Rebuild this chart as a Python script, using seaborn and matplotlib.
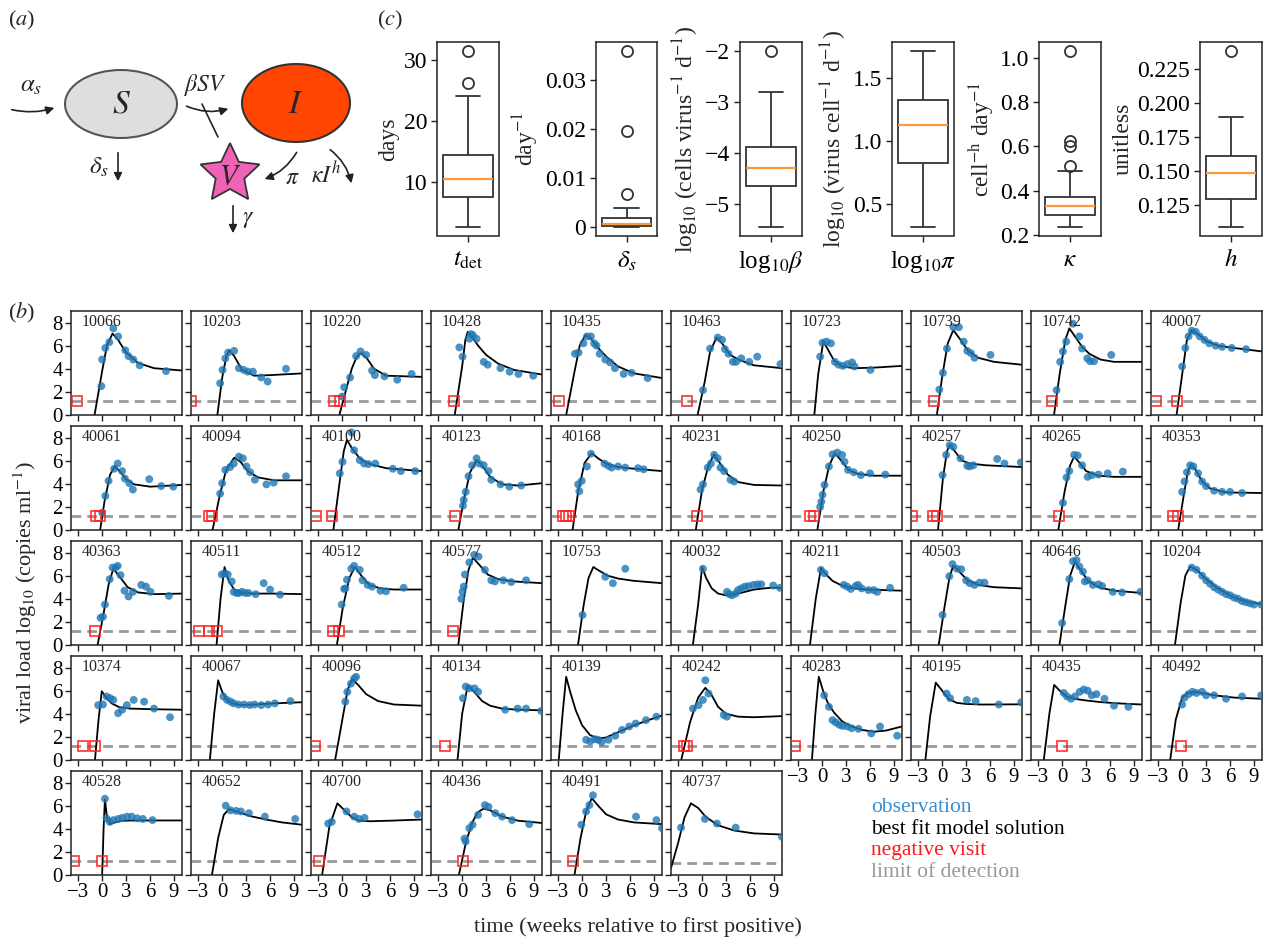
import numpy as np
import matplotlib
matplotlib.use("Agg")
import matplotlib.pyplot as plt
import seaborn as sns
from matplotlib.patches import Ellipse, Polygon, FancyArrowPatch

# ---------------- data: panel (b) ----------------
patient_ids = ["10066", "10203", "10220", "10428", "10435", "10463", "10723", "10739", "10742", "40007",
               "40061", "40094", "40100", "40123", "40168", "40231", "40250", "40257", "40265", "40353",
               "40363", "40511", "40512", "40577", "10753", "40032", "40211", "40503", "40646", "10204",
               "10374", "40067", "40096", "40134", "40139", "40242", "40283", "40195", "40435", "40492",
               "40528", "40652", "40700", "40436", "40491", "40737"]

obs_t = [
    [-0.1, 0.0, 0.4, 0.9, 1.4, 2.0, 2.9, 3.3, 3.9, 4.7, 8.0],
    [-0.25, 0.05, 0.4, 0.75, 1.5, 2.1, 2.7, 3.2, 3.85, 4.9, 5.7, 8.0],
    [0.0, 0.25, 1.0, 1.75, 2.3, 3.0, 3.75, 4.1, 5.3, 6.9, 8.7],
    [-0.35, 0.05, 0.9, 1.1, 1.35, 1.8, 2.7, 3.2, 4.8, 5.95, 7.05, 8.9],
    [-0.9, -0.45, 0.15, 0.6, 1.1, 1.5, 1.8, 2.2, 2.9, 3.5, 4.1, 5.2, 6.2, 8.2],
    [0.1, 1.0, 1.95, 2.5, 2.85, 3.3, 3.85, 4.25, 4.9, 5.9, 6.9, 9.8],
    [-0.25, 0.05, 0.55, 1.1, 1.6, 2.05, 2.6, 3.15, 3.75, 4.05, 6.05],
    [-0.35, 0.1, 0.6, 1.4, 2.1, 2.7, 3.15, 3.6, 4.05, 6.05],
    [-0.7, -0.25, 0.1, 0.5, 1.35, 2.15, 2.5, 3.15, 3.5, 4.0, 6.15],
    [0.0, 0.4, 0.8, 1.2, 1.7, 2.2, 2.8, 3.4, 4.2, 5.0, 6.2, 8.0],
    [0.0, 0.4, 0.8, 1.5, 1.95, 2.5, 2.85, 3.4, 3.85, 5.9, 7.4, 8.9],
    [-0.25, 0.0, 0.4, 1.0, 1.45, 2.1, 2.6, 3.05, 3.5, 4.1, 5.55, 6.45, 8.0],
    [-0.3, 0.05, 1.15, 1.5, 2.2, 2.75, 3.3, 4.15, 6.35, 7.35, 9.15],
    [0.1, 0.2, 0.45, 0.8, 1.25, 1.8, 2.15, 2.7, 3.3, 3.65, 4.8, 5.9, 7.4],
    [-0.5, -0.35, -0.05, 0.6, 1.1, 2.8, 3.3, 3.7, 4.5, 5.4, 7.0, 7.7],
    [-0.2, 0.1, 0.7, 1.1, 1.5, 1.95, 2.3, 2.75, 3.55, 4.0],
    [-0.25, -0.1, 0.05, 0.3, 0.85, 1.3, 1.9, 2.5, 2.8, 3.25, 3.95, 4.85, 6.0, 7.9],
    [0.05, 0.5, 0.95, 1.4, 2.3, 3.15, 3.45, 3.9, 6.9, 7.8, 9.85],
    [0.1, 0.55, 0.9, 1.5, 1.95, 2.5, 3.2, 3.75, 4.55, 5.7, 7.6],
    [0.0, 0.3, 0.6, 1.0, 1.4, 2.0, 2.5, 3.0, 4.0, 5.0, 6.0, 7.5],
    [-0.2, 0.1, 0.35, 0.95, 1.3, 1.7, 1.95, 2.3, 2.8, 3.3, 3.85, 4.9, 5.5, 6.05, 8.35],
    [-0.05, 0.3, 0.7, 1.2, 1.45, 1.8, 2.1, 2.5, 2.9, 3.3, 4.2, 5.2, 6.0, 7.25],
    [-0.05, 0.25, 0.4, 0.6, 1.15, 1.5, 2.2, 2.55, 3.2, 3.75, 4.8, 5.5, 7.7],
    [-0.1, 0.05, 0.2, 0.35, 0.9, 1.5, 2.05, 2.85, 3.65, 4.1, 5.15, 6.15, 8.0],
    [0.05, 2.9, 3.85, 5.4],
    [0.1, 3.1, 3.4, 3.75, 4.2, 4.5, 4.9, 5.35, 5.8, 6.4, 6.95, 7.4, 8.9, 9.75],
    [-0.15, 0.3, 2.7, 3.15, 3.6, 4.2, 4.5, 4.95, 5.8, 6.45, 6.9, 8.5],
    [0.05, 0.9, 1.3, 1.85, 2.4, 3.0, 3.45, 4.05, 4.7, 5.3],
    [0.0, 0.9, 1.35, 1.8, 2.15, 2.6, 2.85, 3.2, 3.85, 4.55, 5.0, 6.35, 7.5, 9.8],
    [1.2, 1.8, 2.5, 3.0, 3.5, 4.0, 4.5, 5.0, 5.5, 6.0, 6.5, 7.0, 7.5, 8.0, 8.5, 9.0, 9.9],
    [-0.5, 0.1, 0.55, 1.0, 1.4, 2.0, 2.5, 3.1, 3.95, 5.25, 6.5, 8.5],
    [0.15, 0.6, 1.05, 1.45, 2.05, 2.75, 3.45, 4.05, 4.9, 5.75, 6.6, 8.55],
    [0.4, 0.65, 1.1, 1.5, 1.75],
    [0.1, 0.45, 0.9, 1.55, 2.0, 5.4, 6.95, 8.0, 9.9],
    [0.5, 1.0, 1.6, 2.0, 2.45, 3.3, 4.15, 5.0, 5.9, 6.7, 8.0, 9.3],
    [-1.15, -0.45, 0.1, 0.4, 0.8, 2.7, 3.1],
    [0.25, 0.85, 1.3, 1.7, 2.15, 2.55, 3.15, 3.7, 4.55, 6.15, 7.25, 9.4],
    [0.55, 1.0, 3.1, 4.2, 7.1, 9.9],
    [0.2, 0.6, 1.1, 1.6, 2.2, 2.7, 3.2, 3.7, 4.3, 5.3, 6.5, 8.3],
    [0.0, 0.3, 0.8, 1.3, 1.8, 2.5, 3.0, 4.0, 5.5, 7.5, 9.9],
    [0.35, 0.55, 0.95, 1.4, 2.0, 2.5, 3.1, 3.7, 4.4, 5.1, 6.3],
    [0.45, 1.05, 1.75, 2.35, 3.35, 5.35, 9.15],
    [-1.75, -1.3, 0.55, 1.5, 2.1, 2.8, 9.45],
    [0.3, 0.45, 0.9, 1.3, 2.0, 2.85, 3.3, 4.15, 5.0, 6.25, 8.4],
    [-0.1, 0.5, 0.9, 1.35, 6.75, 9.3, 10.0],
    [-2.65, 0.35, 1.85, 4.2, 10.0],
]

obs_v = [
    [2.5, 4.8, 5.8, 6.3, 7.5, 6.8, 5.6, 5.1, 4.8, 4.3, 3.8],
    [2.75, 3.9, 4.9, 5.4, 5.55, 4.05, 3.9, 3.75, 3.75, 3.25, 2.9, 4.0],
    [1.6, 2.4, 3.25, 5.1, 5.5, 5.2, 3.85, 3.45, 3.35, 3.05, 3.55],
    [5.85, 5.05, 6.6, 7.0, 6.9, 6.6, 4.6, 4.35, 4.05, 3.75, 3.55, 3.4],
    [5.3, 5.4, 6.2, 6.8, 6.8, 6.2, 6.0, 5.3, 4.8, 4.55, 4.05, 3.55, 3.65, 3.2],
    [2.15, 5.75, 6.7, 6.5, 5.7, 5.3, 4.6, 4.6, 4.9, 4.6, 5.05, 4.4],
    [5.05, 6.25, 6.35, 6.2, 4.6, 4.35, 4.25, 4.4, 4.55, 4.2, 3.9],
    [2.2, 3.65, 5.75, 7.6, 7.6, 6.35, 5.55, 5.35, 4.95, 5.2],
    [2.15, 4.6, 5.5, 6.35, 7.9, 6.8, 5.75, 4.9, 4.65, 4.65, 5.2],
    [4.2, 5.8, 6.8, 7.3, 7.2, 6.8, 6.5, 6.2, 6.0, 5.9, 5.8, 5.7],
    [1.5, 2.95, 4.25, 5.3, 5.75, 5.1, 4.45, 4.05, 3.5, 4.4, 3.8, 3.75],
    [3.15, 4.05, 5.2, 5.45, 5.75, 6.35, 6.2, 5.5, 5.0, 4.35, 3.95, 4.1, 4.65],
    [4.9, 5.9, 8.45, 6.9, 6.05, 5.75, 5.7, 5.75, 5.3, 5.1, 5.1],
    [2.1, 2.6, 3.3, 4.65, 5.6, 6.2, 5.75, 5.6, 5.1, 4.35, 3.95, 3.75, 3.85],
    [3.95, 3.35, 4.25, 5.5, 6.6, 5.75, 5.55, 5.4, 5.5, 5.4, 5.35, 5.25],
    [3.5, 3.95, 5.4, 5.75, 6.5, 6.2, 5.4, 5.1, 4.35, 4.2],
    [2.0, 2.45, 3.05, 3.9, 5.5, 6.55, 6.7, 6.5, 5.9, 5.2, 5.0, 4.75, 4.9, 4.8],
    [4.75, 6.5, 7.35, 7.2, 6.2, 5.55, 5.5, 5.6, 6.15, 5.75, 5.85],
    [2.35, 4.55, 5.1, 6.5, 6.45, 5.6, 4.6, 4.75, 4.8, 4.9, 5.05],
    [3.3, 4.2, 5.0, 5.6, 5.5, 4.9, 4.2, 3.8, 3.4, 3.3, 3.3, 3.2],
    [2.35, 2.45, 3.5, 5.7, 6.7, 6.7, 6.85, 6.05, 4.7, 4.2, 4.6, 5.2, 5.05, 4.6, 4.25],
    [6.1, 6.2, 6.1, 5.5, 4.6, 4.5, 4.5, 4.6, 4.5, 4.5, 4.4, 5.35, 4.8, 4.35],
    [3.5, 4.85, 4.9, 5.65, 6.6, 6.85, 6.5, 5.6, 5.2, 5.05, 4.7, 4.65, 4.95],
    [4.0, 4.6, 5.05, 6.1, 7.15, 7.8, 7.65, 6.5, 5.6, 5.5, 5.6, 5.45, 5.6],
    [2.6, 5.9, 5.35, 6.6],
    [6.6, 4.6, 4.4, 4.3, 4.45, 4.75, 4.9, 5.05, 5.1, 5.2, 5.25, 5.25, 5.15, 4.95],
    [6.5, 6.2, 5.2, 5.05, 4.85, 5.1, 5.2, 4.9, 4.75, 4.75, 4.6, 4.95],
    [2.6, 5.95, 7.0, 6.6, 6.55, 5.6, 5.35, 5.2, 5.4, 5.4],
    [1.9, 5.7, 7.25, 7.35, 6.8, 6.35, 5.5, 5.6, 5.2, 5.25, 5.1, 4.6, 4.55, 4.6],
    [6.7, 6.5, 6.0, 5.6, 5.3, 5.0, 4.8, 4.6, 4.4, 4.3, 4.1, 4.0, 3.8, 3.7, 3.6, 3.5, 3.5],
    [4.75, 4.8, 5.5, 5.35, 5.2, 4.05, 4.35, 4.75, 5.2, 5.05, 4.45, 3.7],
    [5.5, 5.2, 5.05, 4.9, 4.8, 4.8, 4.75, 4.8, 4.75, 4.8, 4.9, 5.1],
    [5.05, 5.9, 6.6, 7.05, 7.2],
    [5.35, 6.35, 6.2, 6.2, 5.9, 4.35, 4.45, 4.45, 4.25],
    [1.75, 1.6, 1.8, 1.75, 1.55, 1.75, 2.1, 2.6, 2.9, 3.15, 3.45, 3.75],
    [4.45, 4.75, 5.2, 6.9, 5.75, 3.9, 3.75],
    [5.6, 4.6, 3.45, 3.25, 3.05, 2.95, 2.9, 2.75, 2.7, 2.3, 2.9, 2.1],
    [5.75, 5.35, 5.2, 5.1, 4.8, 5.0],
    [5.8, 5.5, 5.3, 5.5, 5.9, 6.1, 6.0, 5.6, 5.7, 5.3, 4.7, 4.6],
    [4.8, 5.4, 5.7, 5.9, 5.8, 5.9, 5.6, 5.6, 5.3, 5.5, 5.6],
    [6.6, 4.9, 4.6, 4.75, 4.85, 4.95, 5.05, 5.05, 4.9, 4.85, 4.75],
    [6.0, 5.6, 5.55, 5.5, 5.35, 5.05, 4.85],
    [4.45, 4.6, 5.5, 5.05, 4.85, 4.95, 5.25],
    [3.15, 2.9, 4.05, 4.35, 5.2, 6.05, 5.9, 5.35, 5.05, 4.75, 4.4],
    [4.35, 5.5, 6.05, 6.9, 5.05, 4.75, 4.05],
    [4.1, 4.85, 4.45, 4.1, 3.3],
]

neg_t = [
    [-3.1], [-3.95], [-1.0, -0.3], [-1.0], [-2.9], [-1.95], [], [-1.0], [-1.3], [-3.3, -0.7],
    [-0.8, -0.3], [-1.7, -1.3], [-3.25, -1.25], [-0.95], [-2.4, -2.0, -1.6], [-0.7], [-1.5, -1.0],
    [-3.75, -1.1, -0.6], [-0.35], [-1.2, -0.5],
    [-0.95], [-2.9, -1.6, -0.6], [-1.2, -0.45], [-1.15], [], [], [], [], [], [],
    [-2.45, -0.9], [], [-3.4], [-2.1], [], [-2.3, -1.9], [-3.45], [], [0.0], [-0.2],
    [-3.5, -0.05], [], [-2.95], [0.1], [-1.15], [],
]

fit_t = [
    [-0.95, 0.0, 0.6, 1.3, 2.0, 3.0, 4.5, 6.5, 10.0],
    [-0.6, 0.0, 0.5, 0.9, 1.5, 2.5, 4.0, 6.0, 10.0],
    [-0.35, 0.5, 1.2, 1.8, 2.3, 3.0, 4.0, 5.5, 10.0],
    [-0.93, 0.0, 0.4, 0.7, 1.2, 2.0, 3.0, 4.5, 6.5, 10.0],
    [-2.0, -1.0, -0.3, 0.4, 1.0, 2.0, 3.1, 4.5, 6.5, 10.0],
    [-0.57, 0.3, 1.0, 1.8, 2.5, 3.5, 4.7, 6.5, 10.0],
    [-0.98, -0.5, 0.15, 0.7, 1.5, 2.5, 4.0, 6.5, 10.0],
    [-0.66, 0.0, 0.7, 1.4, 2.2, 3.2, 4.5, 6.5, 10.0],
    [-1.02, -0.3, 0.4, 0.9, 1.6, 2.5, 3.4, 4.8, 6.5, 10.0],
    [-0.7, 0.0, 0.6, 1.2, 2.0, 3.0, 4.5, 6.5, 10.0],
    [-0.25, 0.3, 1.0, 1.6, 2.3, 3.0, 4.0, 6.0, 10.0],
    [-1.2, -0.3, 0.5, 1.5, 2.3, 3.2, 4.5, 6.5, 10.0],
    [-1.1, -0.4, 0.2, 0.6, 1.2, 2.2, 3.5, 5.5, 10.0],
    [-0.48, 0.3, 1.0, 1.8, 2.5, 3.5, 5.0, 7.0, 10.0],
    [-1.2, -0.5, 0.3, 1.2, 2.0, 3.0, 4.5, 6.5, 10.0],
    [-0.8, 0.0, 0.8, 1.5, 2.3, 3.2, 4.5, 6.5, 10.0],
    [-0.6, 0.2, 0.9, 1.6, 2.4, 3.3, 4.5, 6.5, 10.0],
    [-0.52, 0.1, 0.6, 0.95, 1.6, 2.5, 3.5, 5.5, 10.0],
    [-0.48, 0.3, 1.0, 1.5, 2.2, 3.0, 4.5, 6.5, 10.0],
    [-0.5, 0.2, 0.7, 1.1, 1.7, 2.5, 3.5, 5.5, 10.0],
    [-0.57, 0.2, 0.8, 1.4, 2.2, 3.2, 4.5, 6.5, 10.0],
    [-0.7, -0.2, 0.3, 0.8, 1.5, 2.5, 4.0, 6.5, 10.0],
    [-0.66, 0.1, 0.9, 1.6, 2.4, 3.4, 4.8, 6.5, 10.0],
    [-0.48, 0.2, 0.8, 1.35, 2.2, 3.2, 4.5, 6.5, 10.0],
    [-0.52, 0.2, 0.8, 1.4, 2.2, 3.2, 4.5, 6.5, 10.0],
    [-1.16, -0.5, 0.0, 0.5, 1.2, 2.0, 3.0, 4.5, 6.5, 8.5, 10.0],
    [-1.53, -0.8, -0.15, 0.5, 1.3, 2.3, 3.5, 5.5, 10.0],
    [-0.43, 0.3, 0.9, 1.4, 2.2, 3.2, 4.5, 6.5, 10.0],
    [-0.34, 0.4, 1.0, 1.6, 2.3, 3.2, 4.5, 6.5, 10.0],
    [-0.9, -0.2, 0.4, 1.0, 2.0, 3.0, 4.5, 6.5, 8.5, 10.0],
    [-0.9, -0.45, -0.05, 0.5, 1.2, 2.2, 3.5, 6.0, 10.0],
    [-1.54, -1.0, -0.5, 0.0, 0.7, 1.5, 2.5, 4.0, 6.5, 10.0],
    [-0.88, 0.0, 0.7, 1.25, 2.0, 3.0, 4.5, 6.5, 10.0],
    [-0.58, 0.0, 0.7, 1.5, 2.5, 3.5, 5.0, 7.0, 10.0],
    [-2.93, -2.45, -2.0, -1.5, -0.8, 0.0, 1.0, 2.0, 3.0, 4.5, 6.5, 8.5, 10.0],
    [-2.62, -1.5, -0.5, 0.4, 1.2, 2.0, 3.0, 4.5, 6.5, 10.0],
    [-1.28, -0.85, -0.42, 0.2, 0.8, 1.5, 2.5, 3.5, 5.0, 6.5, 8.0, 10.0],
    [-2.1, -1.5, -0.8, 0.0, 0.8, 1.8, 3.0, 5.0, 10.0],
    [-2.3, -1.6, -1.0, -0.3, 0.5, 1.5, 3.0, 5.0, 7.0, 10.0],
    [-1.5, -0.8, 0.0, 0.7, 1.5, 2.5, 4.0, 6.5, 10.0],
    [0.0, 0.18, 0.35, 0.6, 1.0, 1.6, 2.5, 4.0, 10.0],
    [-1.28, -0.5, 0.2, 0.85, 2.0, 3.5, 5.5, 7.5, 10.0],
    [-2.51, -1.6, -0.6, 0.3, 1.2, 2.2, 3.5, 6.0, 10.0],
    [-0.41, 0.5, 1.3, 2.0, 2.7, 3.5, 5.0, 7.0, 10.0],
    [-0.96, -0.2, 0.5, 1.2, 2.0, 3.0, 4.5, 6.5, 10.0],
    [-3.9, -3.0, -2.2, -1.4, -0.5, 0.5, 2.0, 4.0, 6.5, 10.0],
]

fit_v = [
    [0, 3.8, 6.0, 7.05, 6.5, 5.4, 4.5, 4.05, 3.85],
    [0, 3.2, 5.0, 5.6, 5.1, 3.9, 3.4, 3.45, 3.6],
    [0, 2.2, 4.0, 5.0, 5.35, 5.0, 4.0, 3.4, 3.3],
    [0, 4.2, 6.5, 7.2, 6.8, 6.0, 5.2, 4.45, 3.9, 3.5],
    [0, 3.6, 6.0, 6.9, 6.7, 5.8, 5.0, 4.2, 3.6, 3.2],
    [0, 2.8, 5.5, 6.7, 6.2, 5.2, 4.75, 4.3, 4.05],
    [0, 3.5, 6.4, 5.7, 4.7, 4.2, 4.05, 4.1, 4.25],
    [0, 3.3, 6.2, 7.35, 6.6, 5.6, 4.95, 4.6, 4.35],
    [0, 3.6, 6.5, 7.5, 6.8, 5.9, 5.3, 4.8, 4.6, 4.6],
    [0, 3.5, 6.5, 7.35, 7.0, 6.4, 6.0, 5.8, 5.5],
    [0, 2.5, 4.8, 5.5, 5.0, 4.4, 3.95, 3.75, 3.9],
    [0, 3.0, 5.2, 6.25, 5.9, 5.1, 4.55, 4.3, 4.3],
    [0, 3.7, 6.8, 7.8, 7.1, 6.2, 5.7, 5.35, 5.1],
    [0, 2.9, 5.0, 6.05, 5.6, 4.6, 3.95, 3.85, 4.05],
    [0, 3.3, 5.8, 6.65, 6.2, 5.75, 5.45, 5.3, 5.1],
    [0, 3.5, 5.6, 6.55, 5.7, 4.8, 4.15, 3.9, 3.85],
    [0, 3.5, 5.6, 6.65, 6.0, 5.2, 4.85, 4.7, 4.7],
    [0, 4.5, 6.8, 7.4, 6.8, 6.0, 5.75, 5.6, 5.45],
    [0, 3.3, 5.6, 6.35, 5.8, 5.1, 4.7, 4.6, 4.6],
    [0, 3.0, 5.0, 5.7, 5.2, 4.2, 3.6, 3.25, 3.2],
    [0, 2.8, 5.2, 6.6, 5.9, 5.0, 4.55, 4.4, 4.45],
    [0, 4.0, 6.75, 5.6, 4.8, 4.5, 4.45, 4.45, 4.4],
    [0, 3.3, 5.8, 6.75, 6.0, 5.2, 4.9, 4.8, 4.8],
    [0, 3.9, 6.5, 7.55, 6.9, 6.1, 5.7, 5.5, 5.35],
    [0, 3.5, 5.8, 6.75, 6.4, 6.0, 5.75, 5.55, 5.35],
    [0, 3.5, 6.75, 5.8, 4.9, 4.45, 4.3, 4.45, 4.8, 4.95, 4.95],
    [0, 4.0, 6.65, 6.1, 5.55, 5.2, 4.95, 4.8, 4.7],
    [0, 3.3, 5.8, 6.9, 6.3, 5.6, 5.2, 5.0, 4.9],
    [0, 3.4, 6.0, 7.2, 6.5, 5.6, 5.0, 4.7, 4.5],
    [0, 3.6, 6.0, 6.8, 6.4, 5.7, 4.9, 4.1, 3.7, 3.55],
    [0, 3.5, 5.95, 5.4, 4.9, 4.55, 4.45, 4.4, 4.35],
    [0, 4.0, 6.9, 5.9, 5.1, 4.85, 4.75, 4.8, 4.9, 5.0],
    [0, 3.4, 6.1, 7.0, 6.5, 5.7, 5.1, 4.8, 4.7],
    [0, 4.0, 6.45, 5.9, 5.1, 4.7, 4.45, 4.35, 4.3],
    [0, 4.0, 7.2, 5.9, 4.3, 3.0, 2.15, 1.85, 1.95, 2.4, 3.0, 3.5, 3.85],
    [0, 3.3, 5.4, 6.25, 5.6, 4.6, 4.0, 3.75, 3.7, 3.8],
    [0, 4.0, 7.2, 5.8, 4.8, 4.1, 3.35, 2.95, 2.6, 2.45, 2.55, 2.9],
    [0, 3.8, 6.7, 6.0, 5.3, 4.95, 4.85, 4.8, 4.82],
    [0, 4.0, 6.5, 6.0, 5.5, 5.3, 5.15, 5.0, 4.9, 4.8],
    [0, 3.5, 5.4, 5.8, 5.9, 5.8, 5.6, 5.4, 5.3],
    [0, 4.0, 6.55, 5.0, 4.4, 4.55, 4.7, 4.72, 4.72],
    [0, 3.2, 5.2, 5.7, 5.45, 5.1, 4.8, 4.55, 4.35],
    [0, 4.2, 6.2, 5.6, 5.0, 4.7, 4.65, 4.7, 4.8],
    [0, 2.9, 4.6, 5.45, 5.75, 5.6, 5.05, 4.7, 4.5],
    [0, 3.2, 5.5, 6.65, 6.0, 5.25, 4.8, 4.55, 4.4],
    [0.6, 2.8, 5.0, 6.2, 5.8, 5.0, 4.3, 3.85, 3.6, 3.5],
]

lod_values = [1.18] * 45 + [1.05]

# ---------------- data: panel (c) ----------------
t_det_values = [2.6, 4.8, 6.5, 7.5, 8.6, 9.7, 10.5, 11.8, 13.2, 14.4, 24.1, 26.2, 31.4]
delta_s_values = [0.0, 0.00003, 0.00008, 0.00015, 0.0002, 0.00025, 0.0003, 0.0004, 0.0005,
                  0.0007, 0.001, 0.0013, 0.0017, 0.0038, 0.0067, 0.0195, 0.0359]
log_beta_values = [-5.44, -5.0, -4.8, -4.65, -4.5, -4.4, -4.29, -4.2, -4.05, -3.88, -3.3, -2.80, -2.0]
log_pi_values = [0.323, 0.55, 0.7, 0.825, 0.95, 1.05, 1.127, 1.2, 1.27, 1.325, 1.45, 1.6, 1.714]
kappa_values = [0.237, 0.25, 0.26, 0.27, 0.28, 0.289, 0.30, 0.31, 0.315, 0.32, 0.331, 0.34, 0.345,
                0.35, 0.36, 0.371, 0.488, 0.51, 0.60, 0.625, 1.03]
h_values = [0.1087, 0.115, 0.122, 0.1294, 0.135, 0.142, 0.1483, 0.152, 0.156, 0.1606, 0.172, 0.1898, 0.238]

box_ylabels = ["days", r"day$^{-1}$", r"log$_{10}$ (cells virus$^{-1}$ d$^{-1}$)",
               r"log$_{10}$ (virus cell$^{-1}$ d$^{-1}$)", r"cell$^{-\mathrm{h}}$ day$^{-1}$", "unitless"]
box_xlabels = [r"$t_{\mathrm{det}}$", r"$\delta_s$", r"log$_{10}\beta$", r"log$_{10}\pi$", r"$\kappa$", r"$h$"]
box_yticks = [[10, 20, 30], [0, 0.01, 0.02, 0.03], [-5, -4, -3, -2], [0.5, 1.0, 1.5],
              [0.2, 0.4, 0.6, 0.8, 1.0], [0.125, 0.150, 0.175, 0.200, 0.225]]
box_yticklabels = [["10", "20", "30"], ["0", "0.01", "0.02", "0.03"],
                   ["\u22125", "\u22124", "\u22123", "\u22122"], ["0.5", "1.0", "1.5"],
                   ["0.2", "0.4", "0.6", "0.8", "1.0"], ["0.125", "0.150", "0.175", "0.200", "0.225"]]

legend_labels = ["observation", "best fit model solution", "negative visit", "limit of detection"]
x_ticks = [-3, 0, 3, 6, 9]
y_ticks = [0, 2, 4, 6, 8]

# ---------------- style ----------------
sns.set_theme(style="white")
plt.rcParams["font.family"] = ["Liberation Serif", "DejaVu Serif"]
plt.rcParams["mathtext.fontset"] = "stix"
plt.rcParams["axes.edgecolor"] = "#222222"
plt.rcParams["axes.linewidth"] = 1.1

W, H = 1263, 942
fig = plt.figure(figsize=(W / 100, H / 100), dpi=100)


def px_axes(x0, y0, x1, y1):
    return fig.add_axes([x0 / W, 1 - y1 / H, (x1 - x0) / W, (y1 - y0) / H])


OBS_C = "#1f77b4"

# ---------------- (b) panels ----------------
for i, pid in enumerate(patient_ids):
    r, c = divmod(i, 10)
    x0 = 71 + 120 * c
    y0 = 311 + 115 * r
    ax = px_axes(x0, y0, x0 + 111, y0 + 104)
    lod = lod_values[i]
    ax.axhline(lod, color="#999999", ls=(0, (3.5, 2.2)), lw=2.0, zorder=1)
    sns.lineplot(x=fit_t[i], y=fit_v[i], ax=ax, color="black", lw=1.3, sort=False,
                 estimator=None, zorder=2)
    sns.scatterplot(x=obs_t[i], y=obs_v[i], ax=ax, color=OBS_C, s=32, alpha=0.8,
                    edgecolor="none", zorder=3)
    if neg_t[i]:
        ax.plot(neg_t[i], [lod] * len(neg_t[i]), "s", mfc="none", mec="#ff2020",
                ms=7.5, mew=1.3, alpha=0.85, zorder=4)
    ax.set_xlim(-3.9, 10.0)
    ax.set_ylim(0, 9)
    ax.set_xticks(x_ticks)
    ax.set_yticks(y_ticks)
    ax.set_xlabel("")
    ax.set_ylabel("")
    ax.tick_params(direction="out", length=4, width=1, labelsize=15, pad=2,
                   bottom=True, left=True, colors="#222222", labelcolor="black")
    show_x = (r == 4) or (r == 3 and c >= 6)
    if not show_x:
        ax.set_xticklabels([])
    if c != 0:
        ax.set_yticklabels([])
    ax.text(0.1, 0.97, pid, transform=ax.transAxes, ha="left", va="top", fontsize=11.5)

fig.text(25 / W, 1 - 593 / H, r"viral load log$_{10}$ (copies ml$^{-1}$)", rotation=90,
         ha="center", va="center", fontsize=16)
fig.text(638 / W, 1 - 927 / H, "time (weeks relative to first positive)",
         ha="center", va="center", fontsize=16)
fig.text(22 / W, 1 - 313 / H, r"($b$)", ha="center", va="center", fontsize=16)

legend_colors = ["#3a8fd0", "black", "#ff1a1a", "#999999"]
for k, (lab, col) in enumerate(zip(legend_labels, legend_colors)):
    fig.text(871 / W, 1 - (808 + 21.5 * k) / H, lab, color=col, fontsize=15.5,
             ha="left", va="center")

# ---------------- (c) boxplots ----------------
box_x = [(437, 499), (596, 657), (740, 802), (892, 954), (1039, 1101), (1200, 1262)]
box_data = [t_det_values, delta_s_values, log_beta_values, log_pi_values, kappa_values, h_values]
for k, (xs, vals) in enumerate(zip(box_x, box_data)):
    ax = px_axes(xs[0], 42.5, xs[1], 235.5)
    sns.boxplot(y=vals, ax=ax, color="white", linecolor="#333333", linewidth=1.3, width=0.8,
                medianprops=dict(color="#ff9a3c", linewidth=1.6),
                flierprops=dict(marker="o", markerfacecolor="none", markeredgecolor="#333333",
                                markersize=8, markeredgewidth=1.3))
    ax.set_yticks(box_yticks[k])
    ax.set_yticklabels(box_yticklabels[k])
    ax.set_xticks([0])
    ax.set_xticklabels([box_xlabels[k]])
    ax.set_ylabel(box_ylabels[k], fontsize=17, labelpad=3)
    ax.tick_params(direction="out", length=4, width=1, labelsize=17, pad=3,
                   bottom=True, left=True, colors="#222222", labelcolor="black")
    ax.tick_params(axis="x", labelsize=18, pad=6)
fig.text(390 / W, 1 - 20 / H, r"($c$)", ha="center", va="center", fontsize=16)

# ---------------- (a) diagram ----------------
axd = fig.add_axes([0, 1 - 270 / H, 360 / W, 270 / H])
axd.set_xlim(0, 360)
axd.set_ylim(270, 0)
axd.axis("off")
axd.add_patch(Ellipse((121, 104), 112, 68, facecolor="#dedede", edgecolor="#555555", lw=1.5))
axd.add_patch(Ellipse((296, 103), 108, 78, facecolor="#ff4500", edgecolor="#333333", lw=1.5))
ang = np.pi / 2 + np.arange(10) * np.pi / 5
rad = np.where(np.arange(10) % 2 == 0, 31, 15)
star = np.column_stack([230 + rad * np.cos(ang), 174 - rad * np.sin(ang)])
axd.add_patch(Polygon(star, closed=True, facecolor="#f062b5", edgecolor="#333333", lw=1.3))

arrow_kw = dict(arrowstyle="-|>", mutation_scale=12, color="#222222", lw=1.2)
axd.add_patch(FancyArrowPatch((9, 109), (57, 107), connectionstyle="arc3,rad=0.15", **arrow_kw))
axd.add_patch(FancyArrowPatch((184, 105), (231, 108), connectionstyle="arc3,rad=0.2", **arrow_kw))
axd.plot([202, 218], [104, 137], color="#222222", lw=1.2)
axd.add_patch(FancyArrowPatch((118, 150), (118, 184), connectionstyle="arc3,rad=0", **arrow_kw))
axd.add_patch(FancyArrowPatch((298, 150), (262, 180), connectionstyle="arc3,rad=-0.2", **arrow_kw))
axd.add_patch(FancyArrowPatch((328, 148), (352, 186), connectionstyle="arc3,rad=-0.2", **arrow_kw))
axd.add_patch(FancyArrowPatch((233, 203), (233, 236), connectionstyle="arc3,rad=0", **arrow_kw))

axd.text(22, 20, r"($a$)", ha="center", va="center", fontsize=16)
axd.text(31, 86, r"$\alpha_s$", ha="center", va="center", fontsize=18)
axd.text(121, 104, r"$S$", ha="center", va="center", fontsize=24)
axd.text(205, 85, r"$\beta SV$", ha="center", va="center", fontsize=17)
axd.text(296, 105, r"$I$", ha="center", va="center", fontsize=24)
axd.text(99, 167, r"$\delta_s$", ha="center", va="center", fontsize=18)
axd.text(230, 177, r"$V$", ha="center", va="center", fontsize=21)
axd.text(292, 178, r"$\pi$", ha="center", va="center", fontsize=17)
axd.text(326, 175, r"$\kappa I^h$", ha="center", va="center", fontsize=17)
axd.text(248, 220, r"$\gamma$", ha="center", va="center", fontsize=17)

fig.savefig("out.png", dpi=100)
